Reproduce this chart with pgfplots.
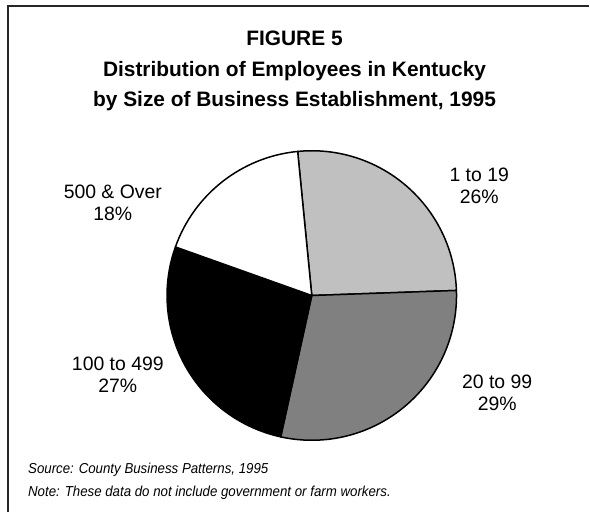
\documentclass[border=0pt]{standalone}
\usepackage{pgfplots}
\pgfplotsset{compat=1.18}
\usepackage{pgfplotstable}
\usepackage{fontspec}
\setmainfont{Liberation Sans}
\newfontfamily\notefont[FakeStretch=0.92]{Liberation Sans}
\definecolor{sliceA}{RGB}{192,192,192}
\definecolor{sliceB}{RGB}{128,128,128}
\definecolor{sliceC}{RGB}{0,0,0}
\definecolor{sliceD}{RGB}{255,255,255}

\pgfplotstableread{
pct col
26 sliceA
29 sliceB
27 sliceC
18 sliceD
}\piedata

\begin{document}
\begin{tikzpicture}
\begin{axis}[
  scale only axis, width=590bp, height=513bp,
  xmin=0, xmax=590, ymin=0, ymax=513,
  hide axis, clip=false,
]
\path (axis cs:0,0) rectangle (axis cs:590,513);
% frame
\draw[line width=2bp, black!85] (axis cs:8,0) -- (axis cs:8,507) -- (axis cs:590,507);
% pie
\pgfplotsextra{%
  \gdef\startang{95.6}%
  \foreach \i in {0,...,3}{%
    \pgfplotstablegetelem{\i}{pct}\of\piedata \let\p\pgfplotsretval
    \pgfplotstablegetelem{\i}{col}\of\piedata \let\c\pgfplotsretval
    \pgfmathsetmacro\da{-3.6*\p}%
    \filldraw[fill=\c, draw=black, line width=1.5bp, line join=round]
      (axis cs:312.3,217) -- ++(\startang:145bp)
      arc[start angle=\startang, delta angle=\da, radius=145bp] -- cycle;
    \pgfmathsetmacro\na{\startang+\da}%
    \xdef\startang{\na}%
  }%
}
% title
\node[anchor=base, font=\fontsize{21}{25}\selectfont\bfseries] at (axis cs:295,467) {FIGURE 5};
\node[anchor=base, font=\fontsize{21}{25}\selectfont\bfseries] at (axis cs:295,436) {Distribution of Employees in Kentucky};
\node[anchor=base, font=\fontsize{21}{25}\selectfont\bfseries] at (axis cs:295,406) {by Size of Business Establishment, 1995};
% labels
\tikzset{lab/.style={anchor=base, font=\fontsize{19.5}{23}\selectfont}}
\node[lab] at (axis cs:480,331) {1 to 19};
\node[lab] at (axis cs:480,309) {26\%};
\node[lab] at (axis cs:113,314) {500 \& Over};
\node[lab] at (axis cs:113,292) {18\%};
\node[lab] at (axis cs:118,142) {100 to 499};
\node[lab] at (axis cs:118,120) {27\%};
\node[lab] at (axis cs:498,124) {20 to 99};
\node[lab] at (axis cs:498,102) {29\%};
% notes
\node[anchor=base west, inner sep=0pt, font=\notefont\itshape\fontsize{14.5}{17}\selectfont] at (axis cs:28,39) {Source: County Business Patterns, 1995};
\node[anchor=base west, inner sep=0pt, font=\notefont\itshape\fontsize{14.5}{17}\selectfont] at (axis cs:28,16) {Note: These data do not include government or farm workers.};
\end{axis}
\end{tikzpicture}
\end{document}
